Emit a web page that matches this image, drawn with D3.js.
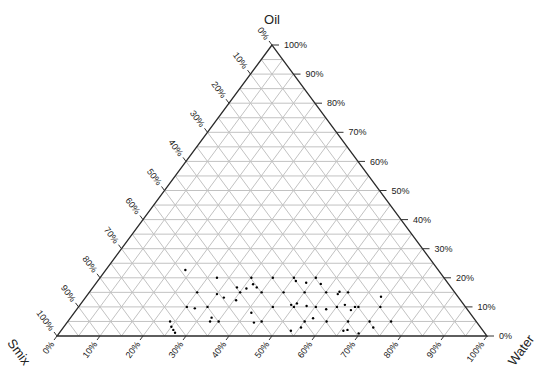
<!DOCTYPE html>
<html>
<head>
<meta charset="utf-8">
<script src="https://d3js.org/d3.v7.min.js"></script>
<style>
  body { margin: 0; background: #fff; }
  text { font-family: "Liberation Sans", Arial, sans-serif; }
</style>
</head>
<body>
<div id="chart"></div>
<script>
// composition of each formulation, percent (Smix = 100 - oil - water)
const oil = [22.7, 20, 20, 20, 20, 18.9, 18.3, 20, 17.9, 17.8, 16.7, 16.7, 16.3,
  15, 14.4, 15, 15, 15, 15, 15, 14.4, 15.2, 15, 13.5, 13.2, 12.3,
  10, 9.5, 10, 8, 10, 10.7, 10, 11.2, 10.3, 10, 9.2, 10, 10.7, 8.9, 10, 10, 10,
  6.3, 5, 5, 4.6, 5, 5, 6.1, 5, 5, 5, 5,
  5, 3.2, 2.1, 1.1, 2.9, 1.8, 1.8, 2.1, 0.9, 2.9];
const water = [18.5, 27.2, 35.2, 40.2, 45.1, 46.1, 48.8, 50.2, 52.4, 36.7, 38.1, 33.5, 35.9,
  25.1, 30, 35.1, 40.1, 45.2, 50.1, 55.1, 58.1, 58.1, 60.2, 68.6, 32.2, 35.5,
  25.2, 27.3, 30, 41.2, 45.2, 49.1, 50.1, 50.2, 52.9, 55.2, 58, 60.1, 61.6, 63.9, 64.3, 65.1, 70.2,
  32.8, 33.1, 35.1, 43.5, 45.1, 55.1, 56.5, 60.2, 65.2, 70.2, 75.2,
  23.8, 25, 26, 26.9, 55.3, 53.5, 65.7, 66.5, 69.7, 72.1];

const tickValues = d3.range(0, 101, 10);
const tickLabels = tickValues.map(v => v + "%");
const gridValues = d3.range(5, 100, 5);
const axisTitles = ["Oil", "Smix", "Water"];

const width = 538, height = 371;
const xLeft = 57, xRight = 487, yTop = 45, yBase = 336;

// oil -> vertical position, (water + oil/2) -> horizontal position
const y = d3.scaleLinear().domain([0, 100]).range([yBase, yTop]);
const x = d3.scaleLinear().domain([0, 100]).range([xLeft, xRight]);
const pt = (o, w) => [x(w + o / 2), y(o)];

const svg = d3.select("#chart").append("svg")
  .attr("width", width).attr("height", height);

// grid lines
const grid = [];
gridValues.forEach(v => {
  grid.push([pt(v, 0), pt(v, 100 - v)]);         // oil constant
  grid.push([pt(0, v), pt(100 - v, v)]);         // water constant
  grid.push([pt(100 - v, 0), pt(0, 100 - v)]);   // smix constant
});
svg.append("g").selectAll("line").data(grid).enter().append("line")
  .attr("x1", d => d[0][0]).attr("y1", d => d[0][1])
  .attr("x2", d => d[1][0]).attr("y2", d => d[1][1])
  .attr("stroke", "#c2c2c2").attr("stroke-width", 1);

// triangle border
const A = pt(100, 0), L = pt(0, 0), R = pt(0, 100);
svg.append("path")
  .attr("d", d3.line()([A, L, R, A]) + "Z")
  .attr("fill", "none").attr("stroke", "#2a2a2a").attr("stroke-width", 1.3);

// unit directions along the edges
const len = Math.hypot(A[0] - L[0], A[1] - L[1]);
const ux = (A[0] - L[0]) / len, uy = (A[1] - L[1]) / len;
const ang = Math.atan2(-uy, ux) * 180 / Math.PI;

const axes = svg.append("g").attr("fill", "#222").style("font-size", "9px");

// Oil ticks, right edge
tickValues.forEach((v, i) => {
  const p = pt(v, 100 - v);
  axes.append("line").attr("x1", p[0]).attr("y1", p[1]).attr("x2", p[0] + 7).attr("y2", p[1])
    .attr("stroke", "#333");
  axes.append("text").attr("x", p[0] + 12).attr("y", p[1]).attr("dy", "0.35em")
    .text(tickLabels[i]);
});

// Water ticks, bottom edge
tickValues.forEach((v, i) => {
  const p = pt(0, v);
  const dx = -ux, dy = -uy;
  axes.append("line").attr("x1", p[0]).attr("y1", p[1])
    .attr("x2", p[0] + dx * 5).attr("y2", p[1] + dy * 5).attr("stroke", "#333");
  const tx = p[0] + dx * 8, ty = p[1] + dy * 8;
  axes.append("text").attr("transform", `translate(${tx},${ty}) rotate(${-ang})`)
    .attr("text-anchor", "end").attr("dy", "0.35em").text(tickLabels[i]);
});

// Smix ticks, left edge (0% at the apex)
tickValues.forEach((v, i) => {
  const p = pt(100 - v, 0);
  const dx = -ux, dy = uy;
  axes.append("line").attr("x1", p[0]).attr("y1", p[1])
    .attr("x2", p[0] + dx * 5).attr("y2", p[1] + dy * 5).attr("stroke", "#333");
  const tx = p[0] + dx * 8, ty = p[1] + dy * 8;
  axes.append("text").attr("transform", `translate(${tx},${ty}) rotate(${ang})`)
    .attr("text-anchor", "end").attr("dy", "0.35em").text(tickLabels[i]);
});

// axis titles
svg.append("text").attr("x", A[0]).attr("y", 24).attr("text-anchor", "middle")
  .style("font-size", "13px").attr("fill", "#222").text(axisTitles[0]);
svg.append("text").attr("transform", `translate(19,352) rotate(${ang})`)
  .attr("text-anchor", "middle").attr("dy", "0.35em")
  .style("font-size", "13px").attr("fill", "#222").text(axisTitles[1]);
svg.append("text").attr("transform", `translate(521,350) rotate(${-ang})`)
  .attr("text-anchor", "middle").attr("dy", "0.35em")
  .style("font-size", "13px").attr("fill", "#222").text(axisTitles[2]);

// points
svg.append("g").selectAll("circle").data(oil.map((o, i) => [o, water[i]])).enter()
  .append("circle")
  .attr("cx", d => pt(d[0], d[1])[0]).attr("cy", d => pt(d[0], d[1])[1])
  .attr("r", 1.2).attr("fill", "#000");
</script>
</body>
</html>
